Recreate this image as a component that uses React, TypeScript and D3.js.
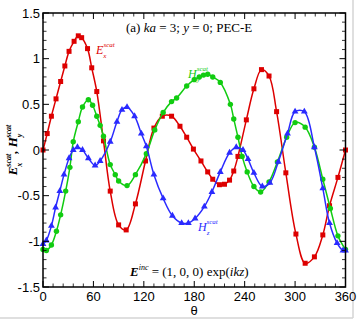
import React from 'react';
import * as d3 from 'd3';

// E_x^scat (red squares)
const exTheta = [0, 5, 10, 15.5, 21, 26, 31, 37, 42, 46, 53, 58, 64, 72, 80, 90, 99, 110, 122, 132, 142, 153, 163, 171, 179, 188, 196, 202, 210, 216, 222, 227, 232, 242, 251, 260, 269, 278, 289, 301, 312, 323, 333, 341, 351, 360];
const exVal = [0, 0.18, 0.37, 0.56, 0.75, 0.92, 1.08, 1.19, 1.25, 1.23, 1.11, 0.9, 0.64, 0.1, -0.45, -0.82, -0.875, -0.59, -0.12, 0.24, 0.37, 0.37, 0.26, 0.14, 0.01, -0.12, -0.24, -0.32, -0.38, -0.375, -0.33, -0.23, -0.07, 0.33, 0.67, 0.88, 0.81, 0.42, -0.25, -0.92, -1.24, -1.17, -0.93, -0.61, -0.3, 0];

// H_y^scat (green circles)
const hyTheta = [0, 4, 10, 16, 21, 27, 32, 36, 42, 47, 54, 59, 64, 68, 72, 80, 86, 90, 100, 110, 123, 133, 143, 153, 159, 171, 180, 186, 191, 196, 202, 211, 223, 227, 232, 237, 243, 251, 259, 269, 279, 290, 300, 312, 323, 333, 342, 351, 360];
const hyVal = [-1.09, -1.1, -1.04, -0.89, -0.71, -0.45, -0.19, 0.09, 0.31, 0.47, 0.55, 0.49, 0.37, 0.27, 0.15, -0.16, -0.27, -0.34, -0.39, -0.27, -0.04, 0.22, 0.41, 0.53, 0.57, 0.7, 0.77, 0.8, 0.82, 0.83, 0.8, 0.74, 0.5, 0.34, 0.14, -0.07, -0.24, -0.4, -0.46, -0.35, -0.13, 0.14, 0.3, 0.25, 0.03, -0.32, -0.64, -0.94, -1.09];

// H_z^scat (blue triangles)
const hzTheta = [0, 4, 10, 15, 20, 25, 31, 36, 41, 47, 54, 62, 68, 80, 88, 94, 100, 109, 117, 123, 132, 143, 154, 165, 173, 181, 192, 201, 211, 222, 230, 238, 244, 251, 261, 270, 280, 291, 300, 311, 323, 333, 341, 350, 357, 360];
const hzVal = [-1.03, -0.99, -0.83, -0.63, -0.45, -0.27, -0.09, 0.0, 0.03, 0.0, -0.09, -0.17, -0.12, 0.09, 0.31, 0.44, 0.47, 0.37, 0.18, 0.04, -0.27, -0.53, -0.72, -0.8, -0.8, -0.75, -0.62, -0.46, -0.24, -0.03, 0.03, 0.0, -0.1, -0.25, -0.4, -0.36, -0.13, 0.18, 0.42, 0.42, 0.03, -0.42, -0.8, -1.02, -1.1, -1.1];

const xTicks = [0, 60, 120, 180, 240, 300, 360];
const yTicks = [-1.5, -1, -0.5, 0, 0.5, 1, 1.5];

const RED = '#dd0000';
const GREEN = '#11cc11';
const BLUE = '#2a2aff';

const serif = '"Liberation Serif", "DejaVu Serif", serif';
const sans = '"Liberation Sans", Arial, sans-serif';

export default function App() {
  const x = d3.scaleLinear().domain([0, 360]).range([43, 345.5]);
  const y = d3.scaleLinear().domain([-1.5, 1.5]).range([287, 13]);
  const [x0, x1] = x.range();
  const [y0, y1] = y.range();

  const line = d3.line<[number, number]>()
    .x(d => x(d[0]))
    .y(d => y(d[1]))
    .curve(d3.curveCatmullRom.alpha(0.5));

  const series = [
    { th: exTheta, v: exVal, color: RED, shape: 'square' },
    { th: hyTheta, v: hyVal, color: GREEN, shape: 'circle' },
    { th: hzTheta, v: hzVal, color: BLUE, shape: 'triangle' },
  ];

  const xMinor = d3.range(0, 361, 12).filter(t => t % 60 !== 0);
  const yMinor = d3.range(-15, 16, 1).map(v => v / 10).filter(v => Math.abs(v * 2 - Math.round(v * 2)) > 1e-6);
  const tri = d3.symbol(d3.symbolTriangle, 20)() as string;

  const marker = (shape: string, cx: number, cy: number, color: string, k: number) => {
    if (shape === 'square') return <rect key={k} x={cx - 2.5} y={cy - 2.5} width={5} height={5} fill={color} />;
    if (shape === 'circle') return <circle key={k} cx={cx} cy={cy} r={2.7} fill={color} />;
    return <path key={k} d={tri} transform={`translate(${cx},${cy})`} fill={color} />;
  };

  return (
    <svg width={360} height={320} style={{ position: 'absolute', left: 0, top: 0, background: '#fff' }}>
      <line x1={353} y1={0} x2={353} y2={318} stroke="#d4d4d4" strokeWidth={1.5} />
      <line x1={0} y1={318} x2={353} y2={318} stroke="#d4d4d4" strokeWidth={1.5} />

      {series.map((s, i) => (
        <g key={i}>
          <path d={line(s.th.map((t, j) => [t, s.v[j]] as [number, number])) || ''} fill="none" stroke={s.color} strokeWidth={1.5} />
          {s.th.map((t, j) => marker(s.shape, x(t), y(s.v[j]), s.color, j))}
        </g>
      ))}

      {/* frame and ticks */}
      <rect x={x0} y={y1} width={x1 - x0} height={y0 - y1} fill="none" stroke="#000" strokeWidth={1.5} />
      {xTicks.map(t => (
        <g key={'xt' + t}>
          <line x1={x(t)} x2={x(t)} y1={y0} y2={y0 - 6} stroke="#000" strokeWidth={1} />
          <line x1={x(t)} x2={x(t)} y1={y1} y2={y1 + 6} stroke="#000" strokeWidth={1} />
          <text x={x(t)} y={300.5} textAnchor="middle" fontFamily={sans} fontSize={13}>{t}</text>
        </g>
      ))}
      {xMinor.map(t => (
        <g key={'xm' + t}>
          <line x1={x(t)} x2={x(t)} y1={y0} y2={y0 - 3.5} stroke="#000" strokeWidth={0.8} />
          <line x1={x(t)} x2={x(t)} y1={y1} y2={y1 + 3.5} stroke="#000" strokeWidth={0.8} />
        </g>
      ))}
      {yTicks.map(v => (
        <g key={'yt' + v}>
          <line x1={x0} x2={x0 + 6} y1={y(v)} y2={y(v)} stroke="#000" strokeWidth={1} />
          <line x1={x1} x2={x1 - 6} y1={y(v)} y2={y(v)} stroke="#000" strokeWidth={1} />
          <text x={40} y={y(v) + 4.5} textAnchor="end" fontFamily={sans} fontSize={13}>{v}</text>
        </g>
      ))}
      {yMinor.map(v => (
        <g key={'ym' + v}>
          <line x1={x0} x2={x0 + 3.5} y1={y(v)} y2={y(v)} stroke="#000" strokeWidth={0.8} />
          <line x1={x1} x2={x1 - 3.5} y1={y(v)} y2={y(v)} stroke="#000" strokeWidth={0.8} />
        </g>
      ))}

      <text x={194} y={315} textAnchor="middle" fontFamily={sans} fontSize={13}>θ</text>

      {/* y-axis label */}
      <text transform="translate(17,150) rotate(-90)" textAnchor="middle" fontFamily={serif} fontSize={13} fontWeight="bold" fontStyle="italic">
        E<tspan fontSize={8} dy={5}>x</tspan><tspan fontSize={8} dy={-11} dx={-4}>scat</tspan><tspan dy={6}>, H</tspan><tspan fontSize={8} dy={5}>y</tspan><tspan fontSize={8} dy={-11} dx={-4}>scat</tspan>
      </text>

      {/* title */}
      <text x={126} y={32} fontFamily={serif} fontSize={13}>
        (a) <tspan fontStyle="italic">ka</tspan> = 3; <tspan fontStyle="italic">y</tspan> = 0; PEC-E
      </text>

      {/* series labels */}
      <text x={96} y={54} fontFamily={serif} fontSize={12} fontStyle="italic" fill={RED}>
        E<tspan fontSize={7} dy={4}>x</tspan><tspan fontSize={7} dy={-11} dx={-3}>scat</tspan>
      </text>
      <text x={188} y={78} fontFamily={serif} fontSize={12} fontStyle="italic" fill={GREEN}>
        H<tspan fontSize={7} dy={4}>y</tspan><tspan fontSize={7} dy={-11} dx={-3}>scat</tspan>
      </text>
      <text x={198} y={231} fontFamily={serif} fontSize={12} fontStyle="italic" fill={BLUE}>
        H<tspan fontSize={7} dy={4}>z</tspan><tspan fontSize={7} dy={-11} dx={-3}>scat</tspan>
      </text>

      {/* incident field annotation */}
      <text x={130} y={276} fontFamily={serif} fontSize={13}>
        <tspan fontWeight="bold" fontStyle="italic">E</tspan><tspan fontSize={8} dy={-6} fontStyle="italic">inc</tspan><tspan dy={6}> = (1, 0, 0) exp(</tspan><tspan fontStyle="italic">ikz</tspan>)
      </text>
    </svg>
  );
}
